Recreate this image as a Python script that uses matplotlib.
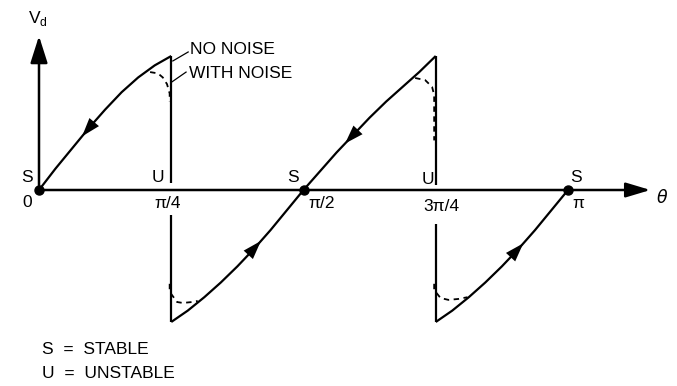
import numpy as np
import matplotlib
matplotlib.use("Agg")
import matplotlib.pyplot as plt

plt.rcParams['font.family'] = ['Liberation Sans', 'DejaVu Sans']

# theta in units of pi, Vd normalised to the peak value
branch1_theta = [0, 0.03125, 0.0625, 0.09375, 0.125, 0.15625, 0.1875, 0.21875, 0.25]
branch1_vd = [0, 0.16, 0.31, 0.46, 0.60, 0.73, 0.84, 0.93, 1.0]

branch2_theta = [0.25, 0.28125, 0.3125, 0.34375, 0.375, 0.40625, 0.4375, 0.46875, 0.5,
                 0.53125, 0.5625, 0.59375, 0.625, 0.65625, 0.6875, 0.71875, 0.75]
branch2_vd = [-0.985, -0.90, -0.80, -0.69, -0.57, -0.44, -0.30, -0.15, 0,
              0.14, 0.28, 0.41, 0.54, 0.66, 0.77, 0.88, 1.0]

branch3_theta = [0.75, 0.78125, 0.8125, 0.84375, 0.875, 0.90625, 0.9375, 0.96875, 1.0]
branch3_vd = [-0.985, -0.90, -0.80, -0.69, -0.57, -0.44, -0.30, -0.15, 0]

# vertical jumps at the unstable points
jump_theta = [0.25, 0.75]
jump_top = [1.0, 1.0]
jump_top_end = [0.05, 0.04]
jump_bottom_start = [-0.19, -0.25]
jump_bottom = [-0.985, -0.985]

# rounded corners with noise
noise_a_theta = [0.210, 0.225, 0.234, 0.242, 0.247, 0.247]
noise_a_vd = [0.88, 0.87, 0.84, 0.79, 0.72, 0.66]
noise_b_theta = [0.711, 0.730, 0.743, 0.747, 0.747, 0.747]
noise_b_vd = [0.836, 0.82, 0.77, 0.71, 0.55, 0.37]
noise_c_theta = [0.247, 0.247, 0.261, 0.272, 0.289, 0.300]
noise_c_vd = [-0.70, -0.76, -0.836, -0.843, -0.836, -0.828]
noise_d_theta = [0.747, 0.747, 0.759, 0.774, 0.793, 0.810]
noise_d_vd = [-0.70, -0.746, -0.806, -0.82, -0.813, -0.80]

stable_theta = [0, 0.5, 1.0]
tick_theta = [0, 0.25, 0.5, 0.75, 1.0]
tick_labels = ['0', 'π/4', 'π/2', '3π/4', 'π']
point_labels = ['S', 'U', 'S', 'U', 'S']

fig = plt.figure(figsize=(6.77, 3.86), dpi=100)
ax = fig.add_axes([0, 0, 1, 1])
ax.set_xlim(-39 / 529, 638 / 529)
ax.set_ylim(-196 / 134, 190 / 134)
ax.axis('off')

k = dict(color='black', lw=1.6, solid_capstyle='butt')
ax.plot(branch1_theta, branch1_vd, **k)
ax.plot(branch2_theta, branch2_vd, **k)
ax.plot(branch3_theta, branch3_vd, **k)
for t, a, b, c, d in zip(jump_theta, jump_top, jump_top_end, jump_bottom_start, jump_bottom):
    ax.plot([t, t], [a, b], **k)
    ax.plot([t, t], [c, d], **k)

dk = dict(color='black', lw=1.3, ls=(0, (3, 2.5)))
for xs, ys in [(noise_a_theta, noise_a_vd), (noise_b_theta, noise_b_vd),
               (noise_c_theta, noise_c_vd), (noise_d_theta, noise_d_vd)]:
    ax.plot(xs, ys, **dk)

# axes with arrow heads
ax.annotate('', xy=(1.161, 0), xytext=(0, 0),
            arrowprops=dict(arrowstyle='-|>,head_length=1.0,head_width=0.3',
                            color='black', lw=1.8, mutation_scale=15))
ax.annotate('', xy=(0, 1.17), xytext=(0, 0),
            arrowprops=dict(arrowstyle='-|>,head_length=1.1,head_width=0.35',
                            color='black', lw=1.8, mutation_scale=15))
ax.plot(stable_theta, [0] * len(stable_theta), 'o', color='black', ms=6.5)

# direction arrows along the curves
def flow_arrow(xs, ys, t, back):
    tip = (t, np.interp(t, xs, ys))
    tail = (t + back, np.interp(t + back, xs, ys))
    ax.annotate('', xy=tip, xytext=tail,
                arrowprops=dict(arrowstyle='-|>,head_length=0.9,head_width=0.3',
                                color='black', lw=0, mutation_scale=15))

flow_arrow(branch1_theta, branch1_vd, 0.078, 0.03)
flow_arrow(branch2_theta, branch2_vd, 0.423, -0.03)
flow_arrow(branch2_theta, branch2_vd, 0.575, 0.03)
flow_arrow(branch3_theta, branch3_vd, 0.919, -0.03)

fs = 12.5
ax.text(-0.002, 1.28, 'V$_\\mathregular{d}$', fontsize=fs, ha='center', va='center')
ax.text(1.178, -0.05, r'$\theta$', fontsize=fs, ha='center', va='center')

label_pos = [(-0.023, 0.09), (0.225, 0.097), (0.48, 0.09), (0.735, 0.082), (1.015, 0.09)]
tick_pos = [(-0.023, -0.09), (0.244, -0.104), (0.535, -0.104), (0.76, -0.12), (1.019, -0.1)]
for (px, py), s in zip(label_pos, point_labels):
    ax.text(px, py, s, fontsize=fs, ha='center', va='center')
for (px, py), s in zip(tick_pos, tick_labels):
    ax.text(px, py, s, fontsize=fs, ha='center', va='center')

ax.text(0.285, 1.045, 'NO NOISE', fontsize=fs, ha='left', va='center')
ax.text(0.283, 0.873, 'WITH NOISE', fontsize=fs, ha='left', va='center')
ax.plot([0.253, 0.282], [0.963, 1.03], color='black', lw=0.9)
ax.plot([0.251, 0.278], [0.806, 0.88], color='black', lw=0.9)

ax.text(0.006, -1.194, 'S  =  STABLE', fontsize=fs, ha='left', va='center')
ax.text(0.006, -1.373, 'U  =  UNSTABLE', fontsize=fs, ha='left', va='center')

fig.savefig('out.png', dpi=100, facecolor='white')
